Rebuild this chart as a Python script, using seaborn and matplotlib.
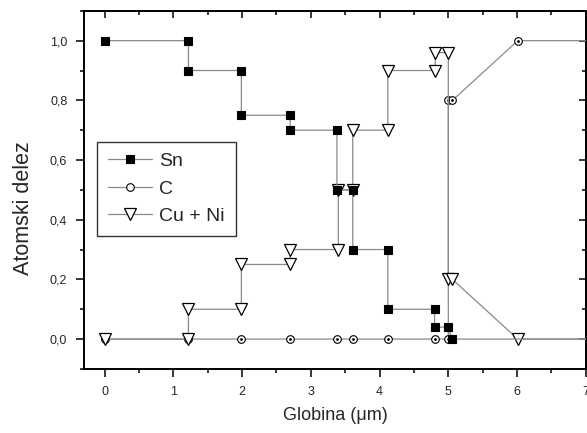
import matplotlib
matplotlib.use("Agg")
import matplotlib.pyplot as plt
import seaborn as sns
import pandas as pd
from matplotlib.ticker import MultipleLocator, FuncFormatter

# ---- data ----
sn_x = [0.0, 1.22, 1.22, 1.99, 1.99, 2.70, 2.70, 3.38, 3.38, 3.61, 3.61, 4.12, 4.12, 4.80, 4.80, 4.99, 5.06, 8.0]
sn_y = [1.00, 1.00, 0.90, 0.90, 0.75, 0.75, 0.70, 0.70, 0.50, 0.50, 0.30, 0.30, 0.10, 0.10, 0.04, 0.04, 0.00, 0.00]

c_x = [0.0, 1.22, 1.99, 2.70, 3.38, 3.61, 4.12, 4.80, 5.00, 5.00, 5.06, 6.01, 8.0]
c_y = [0.0, 0.0, 0.0, 0.0, 0.0, 0.0, 0.0, 0.0, 0.0, 0.80, 0.80, 1.00, 1.00]

cuni_x = [0.0, 1.22, 1.22, 1.99, 1.99, 2.70, 2.70, 3.40, 3.40, 3.61, 3.61, 4.12, 4.12, 4.81, 4.81, 5.00, 5.00, 5.06, 6.01, 8.0]
cuni_y = [0.0, 0.0, 0.10, 0.10, 0.25, 0.25, 0.30, 0.30, 0.50, 0.50, 0.70, 0.70, 0.90, 0.90, 0.96, 0.96, 0.20, 0.20, 0.00, 0.00]

series_labels = ["Sn", "C", "Cu + Ni"]
x_ticks = [0, 1, 2, 3, 4, 5, 6, 7]
y_ticks = [0.0, 0.2, 0.4, 0.6, 0.8, 1.0]

sns.set_theme(style="white")
plt.rcParams["font.family"] = ["Liberation Sans", "DejaVu Sans"]

fig = plt.figure(figsize=(5.87, 4.33), dpi=100)
ax = fig.add_axes([0.143, 0.148, 0.855, 0.827])

line_col = "#8a8a8a"
df_sn = pd.DataFrame({"x": sn_x, "y": sn_y})
df_c = pd.DataFrame({"x": c_x, "y": c_y})
df_cu = pd.DataFrame({"x": cuni_x, "y": cuni_y})

sns.lineplot(data=df_c, x="x", y="y", ax=ax, sort=False, estimator=None,
             color=line_col, lw=0.9, marker="o", markersize=5.5,
             markerfacecolor="white", markeredgecolor="black", markeredgewidth=0.8,
             label=series_labels[1], zorder=3)
sns.lineplot(data=df_c, x="x", y="y", ax=ax, sort=False, estimator=None,
             color="black", lw=0, marker="o", markersize=1.2,
             markerfacecolor="black", markeredgecolor="black", zorder=3.1, legend=False)
sns.lineplot(data=df_cu, x="x", y="y", ax=ax, sort=False, estimator=None,
             color=line_col, lw=0.9, marker="v", markersize=9,
             markerfacecolor="white", markeredgecolor="black", markeredgewidth=0.9,
             label=series_labels[2], zorder=4)
sns.lineplot(data=df_sn, x="x", y="y", ax=ax, sort=False, estimator=None,
             color=line_col, lw=0.9, marker="s", markersize=5.5,
             markerfacecolor="black", markeredgecolor="black", markeredgewidth=0.8,
             label=series_labels[0], zorder=5)

ax.set_xlim(-0.3, 7.0)
ax.set_ylim(-0.1, 1.1)
ax.set_xticks(x_ticks)
ax.set_yticks(y_ticks)
ax.xaxis.set_minor_locator(MultipleLocator(0.5))
ax.yaxis.set_minor_locator(MultipleLocator(0.1))
ax.yaxis.set_major_formatter(FuncFormatter(lambda v, p: f"{v:.1f}".replace(".", ",")))
ax.xaxis.set_major_formatter(FuncFormatter(lambda v, p: f"{v:.0f}"))

for s in ax.spines.values():
    s.set_color("black")
    s.set_linewidth(1.4)

ax.tick_params(which="major", direction="out", length=6, width=1.1, color="black",
               labelsize=9, bottom=True, left=True, top=False, right=False, pad=6)
ax.tick_params(which="minor", direction="out", length=3, width=1.1, color="black",
               bottom=True, left=True, top=False, right=False)

# mirrored inward ticks on top and right
secx = ax.secondary_xaxis("top")
secx.set_xticks(x_ticks)
secx.xaxis.set_minor_locator(MultipleLocator(0.5))
secx.tick_params(which="major", direction="in", length=5, width=1.1, color="black", labeltop=False)
secx.tick_params(which="minor", direction="in", length=3, width=1.1, color="black")
secx.spines["top"].set_linewidth(1.4)
secy = ax.secondary_yaxis("right")
secy.set_yticks(y_ticks)
secy.yaxis.set_minor_locator(MultipleLocator(0.1))
secy.tick_params(which="major", direction="in", length=5, width=1.1, color="black", labelright=False)
secy.tick_params(which="minor", direction="in", length=3, width=1.1, color="black")
secy.spines["right"].set_linewidth(1.4)

ax.set_xlabel("Globina (\u03bcm)", fontsize=13)
ax.xaxis.set_label_coords(0.5, -0.105)
ax.set_ylabel("Atomski delez", fontsize=15.5)
ax.yaxis.set_label_coords(-0.10, 0.45)

handles, labels = ax.get_legend_handles_labels()
order = [labels.index(l) for l in series_labels]
leg = ax.legend([handles[i] for i in order], [labels[i] for i in order],
                loc="upper left", bbox_to_anchor=(0.026, 0.634), fontsize=14,
                frameon=True, fancybox=False, edgecolor="black", handlelength=2.3,
                handletextpad=0.35, borderpad=0.55, labelspacing=0.5, borderaxespad=0)
leg.get_frame().set_linewidth(1.0)

fig.savefig("out.png", dpi=100)
